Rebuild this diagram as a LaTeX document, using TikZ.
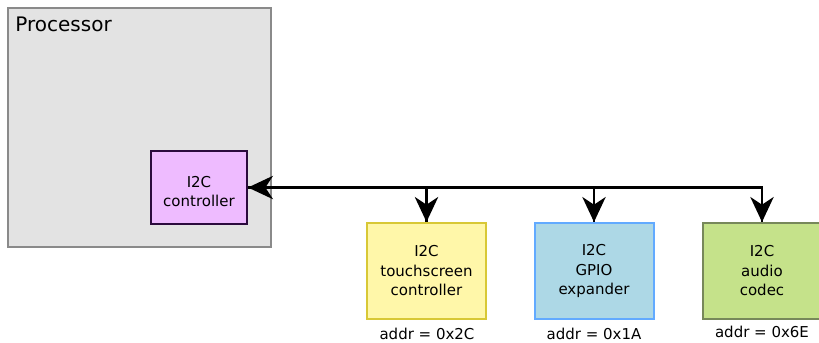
\documentclass[tikz,border=0pt]{standalone}
\usepackage{fontspec}
\setmainfont{DejaVu Sans}
\usetikzlibrary{arrows.meta}
\usetikzlibrary{decorations.markings}
\definecolor{procfill}{HTML}{E3E3E3}
\definecolor{procline}{HTML}{8A8A8A}
\definecolor{ctrlfill}{HTML}{EEBBFF}
\definecolor{ctrlline}{HTML}{2B0A3D}
\definecolor{tsfill}{HTML}{FFF7A9}
\definecolor{tsline}{HTML}{D8C836}
\definecolor{gpiofill}{HTML}{ADD8E6}
\definecolor{gpioline}{HTML}{62AAFF}
\definecolor{audiofill}{HTML}{C5E28A}
\definecolor{audioline}{HTML}{77885A}
\tikzset{myptr1/.style={decoration={markings,mark=at position 1 with %
    {\arrow{Stealth[length=15pt,width=14pt,inset=4.6pt]}}},postaction={decorate}}}
\tikzset{myptr2/.style={decoration={markings,mark=at position 0 with %
    {\arrowreversed{Stealth[length=15pt,width=14pt,inset=4.6pt]}},mark=at position 1 with %
    {\arrow{Stealth[length=15pt,width=14pt,inset=4.6pt]}}},postaction={decorate}}}
\tikzset{bus/.style={-,line width=1.5pt,black}}
\tikzset{chip/.style={draw,line width=1.2pt,inner sep=0pt,align=center,%
    minimum width=71.4pt,minimum height=57.6pt,font=\fontsize{9}{11.7}\selectfont}}
\tikzset{addr/.style={font=\fontsize{9}{11.7}\selectfont}}

\begin{document}
\begin{tikzpicture}[x=0.6pt,y=-0.6pt]

	  \useasboundingbox (0,0) rectangle (819,342);

	  \node [draw=procline,fill=procfill,line width=1.2pt,inner sep=0pt,%
	    minimum width=157.8pt,minimum height=143.4pt] (proc) at (139.5,127.5) {};
	  \node [right,font=\fontsize{12}{14}\selectfont] (proclbl) at (9.5,24) {Processor};

	  \node [chip,draw=ctrlline,fill=ctrlfill,minimum width=57.6pt,minimum height=43.8pt] %
	    (ctrl) at (199,187.5) {\rule{0pt}{11.4pt}I2C\\controller};

	  \node [chip,draw=tsline,fill=tsfill] (ts) at (426.5,271) {I2C\\touchscreen\\controller};
	  \node [chip,draw=gpioline,fill=gpiofill] (gpio) at (594,271) {I2C\\GPIO\\expander};
	  \node [chip,draw=audioline,fill=audiofill] (audio) at (762,271) {I2C\\audio\\codec};

	  \node [addr] (tsaddr) at (427,334) {addr = 0x2C};
	  \node [addr] (gpioaddr) at (594,334) {addr = 0x1A};
	  \node [addr] (audioaddr) at (762,332) {addr = 0x6E};

	  % the bus
	  \draw [bus,myptr2] (ctrl.east) -- (audio.north |- ctrl.east) -- (audio.north);
	  \draw [bus,myptr1] (ts.north |- ctrl.east) -- (ts.north);
	  \draw [bus,myptr1] (gpio.north |- ctrl.east) -- (gpio.north);

\end{tikzpicture}
\end{document}
